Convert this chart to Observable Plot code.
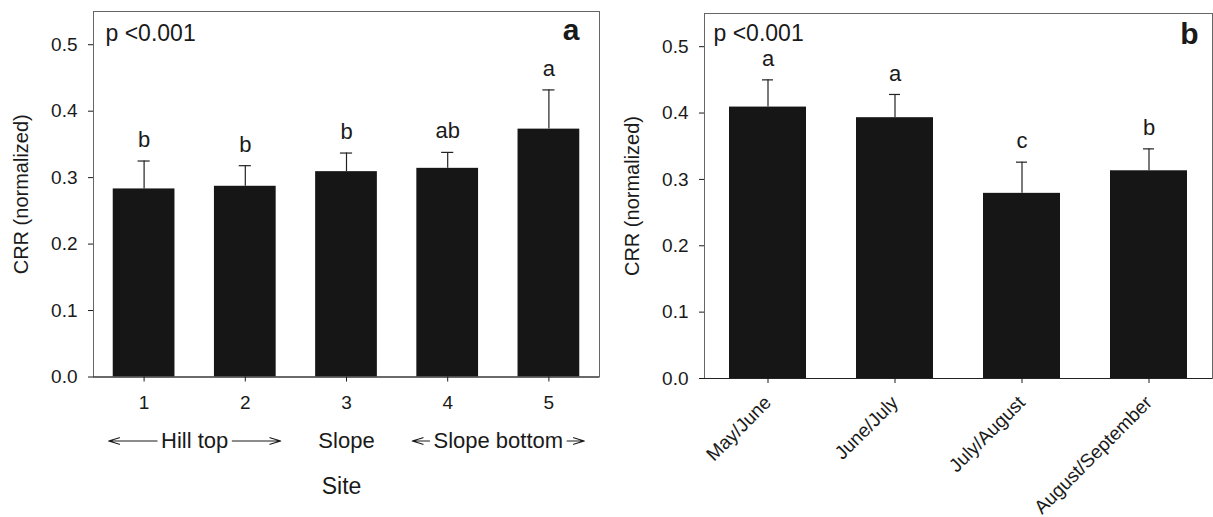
<!DOCTYPE html>
<html>
<head>
<meta charset="utf-8">
<script src="https://cdn.jsdelivr.net/npm/d3@7"></script>
<script src="https://cdn.jsdelivr.net/npm/@observablehq/plot@0.6"></script>
<style>
  html, body { margin: 0; padding: 0; background: #fff; overflow: hidden; }
  #wrap { display: flex; width: 1213px; height: 517px; }
  #wrap svg { display: block; }
</style>
</head>
<body>
<div id="wrap"><div id="pa"></div><div id="pb"></div></div>
<script>
// ---- Panel a data (by site) ----
const sites = [1, 2, 3, 4, 5];
const crrSite = [0.283, 0.287, 0.309, 0.314, 0.373];
const seSite = [0.042, 0.031, 0.028, 0.024, 0.059];
const lettersSite = ["b", "b", "b", "ab", "a"];
const groupNames = ["Hill top", "Slope", "Slope bottom"];
const groupFrom = [1, 3, 4];
const groupTo = [2, 3, 5];
const groupArrows = [true, false, true];

// ---- Panel b data (by period) ----
const periods = ["May/June", "June/July", "July/August", "August/September"];
const crrPeriod = [0.409, 0.393, 0.279, 0.313];
const sePeriod = [0.041, 0.035, 0.047, 0.033];
const lettersPeriod = ["a", "a", "c", "b"];

const yDomain = [0, 0.55];
const yTicks = [0, 0.1, 0.2, 0.3, 0.4, 0.5];
const pText = "p <0.001";
const yLabel = "CRR (normalized)";
const xLabelA = "Site";

const FONT = "'Liberation Sans', Arial, Helvetica, sans-serif";
const BAR = "#161616";
const INK = "#1a1a1a";
const BARW = 0.61;   // bar width as fraction of category step
const CAP = 0.06;    // half cap width in site units
const EXT = 0.35;    // arrow overhang in site units
const GROUP_FS = 22;
const YLABEL_FS = 20;
const GAP = 4;

const siteData = sites.map((s, i) => ({site: s, crr: crrSite[i], se: seSite[i], letter: lettersSite[i]}));
const periodData = periods.map((p, i) => ({period: p, crr: crrPeriod[i], se: sePeriod[i], letter: lettersPeriod[i]}));
const groups = groupNames.map((g, i) => ({name: g, from: groupFrom[i], to: groupTo[i], arrows: groupArrows[i], mid: (groupFrom[i] + groupTo[i]) / 2}));

const ctx = document.createElement("canvas").getContext("2d");
const halfWidth = (s, fs) => { ctx.font = `${fs}px ${FONT}`; return ctx.measureText(s).width / 2; };

const arrowMarks = groups.filter(g => g.arrows).map(g =>
  Plot.arrow([{x1: g.mid, x2: g.from - EXT}, {x1: g.mid, x2: g.to + EXT}], {
    x1: "x1", x2: "x2", y1: () => 0, y2: () => 0, dy: 64,
    insetStart: halfWidth(g.name, GROUP_FS) + GAP,
    stroke: INK, strokeWidth: 1.2, headLength: 14, headAngle: 34
  })
);

const errTop = d => d.crr + d.se;

const plotA = Plot.plot({
  width: 606, height: 517,
  marginLeft: 93, marginRight: 7, marginTop: 11, marginBottom: 140.5,
  style: {fontFamily: FONT, color: INK, background: "white"},
  x: {type: "linear", domain: [0.5, 5.5]},
  y: {domain: yDomain},
  marks: [
    Plot.rectY(siteData, {x1: d => d.site - BARW / 2, x2: d => d.site + BARW / 2, y: "crr", fill: BAR}),
    Plot.ruleX(siteData, {x: "site", y1: "crr", y2: errTop, stroke: "#222", strokeWidth: 1.2}),
    Plot.ruleY(siteData, {x1: d => d.site - CAP, x2: d => d.site + CAP, y: errTop, stroke: "#222", strokeWidth: 1.2}),
    Plot.text(siteData, {x: "site", y: errTop, text: "letter", dy: -21, fontSize: 22, lineAnchor: "middle", fill: INK}),
    Plot.frame({stroke: "#666"}),
    Plot.ruleY([0], {stroke: "#222", strokeWidth: 1.2}),
    Plot.axisY({ticks: yTicks, tickFormat: d3.format(".1f"), tickSize: 5, tickPadding: 11, fontSize: 19, label: null}),
    Plot.axisY({ticks: [], tickSize: 0, label: yLabel, labelAnchor: "center", labelArrow: "none", labelOffset: 80, fontSize: YLABEL_FS}),
    Plot.axisX({ticks: sites, tickFormat: d3.format("d"), tickSize: 5, tickPadding: 13, fontSize: 19, label: null}),
    ...arrowMarks,
    Plot.text(groups, {x: "mid", y: () => 0, text: "name", dy: 64, fontSize: GROUP_FS, lineAnchor: "middle", fill: INK}),
    Plot.text([xLabelA], {frameAnchor: "bottom", dx: -5, dy: 110, fontSize: 23, textAnchor: "middle", lineAnchor: "middle", fill: INK}),
    Plot.text([pText], {frameAnchor: "top-left", dx: 12, dy: 22, textAnchor: "start", lineAnchor: "middle", fontSize: 23, fill: INK}),
    Plot.text(["a"], {frameAnchor: "top-right", dx: -20, dy: 19, textAnchor: "end", lineAnchor: "middle", fontSize: 30, fontWeight: "bold", fill: INK})
  ]
});

const plotB = Plot.plot({
  width: 607, height: 517,
  marginLeft: 98, marginRight: 1, marginTop: 13, marginBottom: 139,
  style: {fontFamily: FONT, color: INK, background: "white"},
  x: {type: "band", domain: periods, paddingInner: 0.39, paddingOuter: 0.195},
  y: {domain: yDomain},
  marks: [
    Plot.barY(periodData, {x: "period", y: "crr", fill: BAR}),
    Plot.ruleX(periodData, {x: "period", y1: "crr", y2: errTop, stroke: "#222", strokeWidth: 1.2}),
    Plot.tickY(periodData, {x: "period", y: errTop, insetLeft: 33, insetRight: 33, stroke: "#222", strokeWidth: 1.2}),
    Plot.text(periodData, {x: "period", y: errTop, text: "letter", dy: -21, fontSize: 22, lineAnchor: "middle", fill: INK}),
    Plot.frame({stroke: "#666"}),
    Plot.ruleY([0], {stroke: "#222", strokeWidth: 1.2}),
    Plot.axisY({ticks: yTicks, tickFormat: d3.format(".1f"), tickSize: 5, tickPadding: 11, fontSize: 19, label: null}),
    Plot.axisX({tickRotate: -45, tickSize: 5, tickPadding: 16, fontSize: 19, label: null}),
    Plot.text([yLabel], {y: () => d3.mean(yDomain), frameAnchor: "left", dx: -72, rotate: -90, textAnchor: "middle", lineAnchor: "middle", fontSize: YLABEL_FS, fill: INK}),
    Plot.text([pText], {frameAnchor: "top-left", dx: 9, dy: 20, textAnchor: "start", lineAnchor: "middle", fontSize: 23, fill: INK}),
    Plot.text(["b"], {frameAnchor: "top-right", dx: -14, dy: 21, textAnchor: "end", lineAnchor: "middle", fontSize: 30, fontWeight: "bold", fill: INK})
  ]
});

document.getElementById("pa").append(plotA);
document.getElementById("pb").append(plotB);
</script>
</body>
</html>
